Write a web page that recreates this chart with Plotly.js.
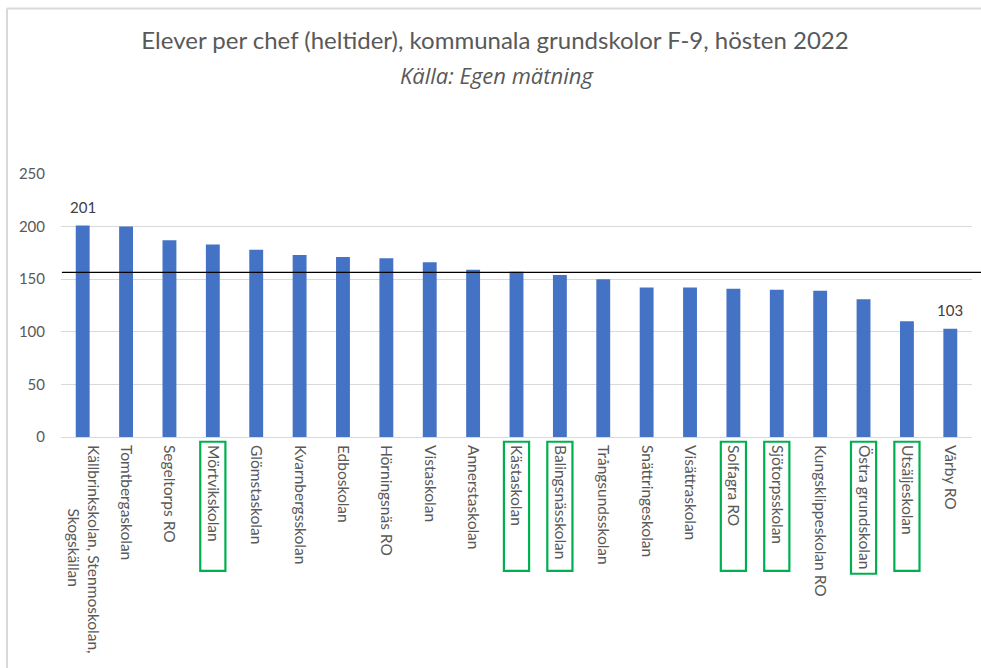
<!DOCTYPE html>
<html>
<head>
<meta charset="utf-8">
<script src="https://cdn.plot.ly/plotly-3.0.1.min.js"></script>
<style>html,body{margin:0;padding:0;background:#fff;}#chart{width:981px;height:668px;}</style>
</head>
<body>
<div id="chart"></div>
<script>
const NB = '\u00A0'.repeat(16);
const categories = [
  'Källbrinkskolan, Stenmoskolan,<br>' + NB + 'Skogskällan',
  'Tomtbergaskolan',
  'Segeltorps RO',
  'Mörtvikskolan',
  'Glömstaskolan',
  'Kvarnbergsskolan',
  'Edboskolan',
  'Hörningsnäs RO',
  'Vistaskolan',
  'Annerstaskolan',
  'Kästaskolan',
  'Balingsnässkolan',
  'Trångsundsskolan',
  'Snättringeskolan',
  'Visättraskolan',
  'Solfagra RO',
  'Sjötorpsskolan',
  'Kungsklippeskolan RO',
  'Östra grundskolan',
  'Utsäljeskolan',
  'Vårby RO'
];
const values = [201, 200, 187, 183, 178, 173, 171, 170, 166, 159, 157, 154, 150, 142, 142, 141, 140, 139, 131, 110, 103];
const labelledBars = [0, 20];
const highlighted = ['Mörtvikskolan', 'Kästaskolan', 'Balingsnässkolan', 'Solfagra RO', 'Sjötorpsskolan', 'Östra grundskolan', 'Utsäljeskolan'];
const averageLine = 156.5;
const titleText = 'Elever per chef (heltider), kommunala grundskolor F-9, hösten 2022';
const subtitleText = 'Källa: Egen mätning';

const FONT = 'Lato, "Open Sans", sans-serif';
const GRAY = '#595959';

const shapes = [];
// chart border (top and left)
shapes.push({type: 'line', xref: 'paper', yref: 'paper', x0: -0.0593, x1: 1.02, y0: 1.629, y1: 1.629, line: {color: '#d9d9d9', width: 2}});
shapes.push({type: 'line', xref: 'paper', yref: 'paper', x0: -0.0593, x1: -0.0593, y0: 1.629, y1: -0.9, line: {color: '#d9d9d9', width: 2}});
// average line
shapes.push({type: 'line', xref: 'paper', yref: 'y', x0: 0.001, x1: 1.02, y0: averageLine, y1: averageLine, line: {color: '#000000', width: 1.3}, layer: 'above'});
// green highlight boxes
highlighted.forEach(name => {
  const i = categories.indexOf(name);
  shapes.push({type: 'rect', xref: 'x', yref: 'paper', x0: i - 0.29, x1: i + 0.29,
    y0: -0.018, y1: name === 'Östra grundskolan' ? -0.52 : -0.509,
    line: {color: '#00B050', width: 2.2}, fillcolor: 'rgba(0,0,0,0)'});
});

const annotations = labelledBars.map(i => ({
  x: i, y: values[i], xref: 'x', yref: 'y', text: String(values[i]),
  showarrow: false, yanchor: 'bottom', yshift: 8,
  font: {family: FONT, size: 15, color: '#404040'}
}));
annotations.push({
  text: '<i>' + subtitleText + '</i>', xref: 'paper', yref: 'paper',
  x: (496.5 - 61) / 911, xanchor: 'center', y: (437 - 75) / 263, yanchor: 'middle', showarrow: false,
  font: {family: '"Open Sans", Lato, sans-serif', size: 22, color: GRAY}
});

const trace = {
  type: 'bar',
  x: categories.map((c, i) => i),
  y: values,
  marker: {color: '#4472C4'},
  hoverinfo: 'y'
};

const layout = {
  width: 981, height: 668,
  margin: {l: 61, r: 9, t: 174, b: 231},
  paper_bgcolor: '#ffffff', plot_bgcolor: '#ffffff',
  bargap: 0.68,
  showlegend: false,
  title: {text: titleText, x: (495 - 61) / 911, xref: 'paper', xanchor: 'center', y: 1 - 41 / 668, yref: 'container', yanchor: 'middle',
    font: {family: FONT, size: 24, color: GRAY}},
  xaxis: {
    type: 'linear', range: [-0.5, 20.5],
    tickmode: 'array', tickvals: categories.map((c, i) => i), ticktext: categories,
    tickangle: 90, showgrid: false, zeroline: false, showline: false, ticks: '',
    ticklabelstandoff: 7,
    tickfont: {family: FONT, size: 15.5, color: GRAY}
  },
  yaxis: {
    range: [0, 250], dtick: 50, showgrid: true, gridcolor: '#d9d9d9', gridwidth: 1.3,
    zeroline: true, zerolinecolor: '#d9d9d9', zerolinewidth: 1.3, showline: false, ticks: '',
    ticklabelstandoff: 15,
    tickfont: {family: FONT, size: 15, color: GRAY}
  },
  shapes: shapes,
  annotations: annotations
};

Plotly.newPlot('chart', [trace], layout, {displayModeBar: false, responsive: false});
</script>
</body>
</html>
